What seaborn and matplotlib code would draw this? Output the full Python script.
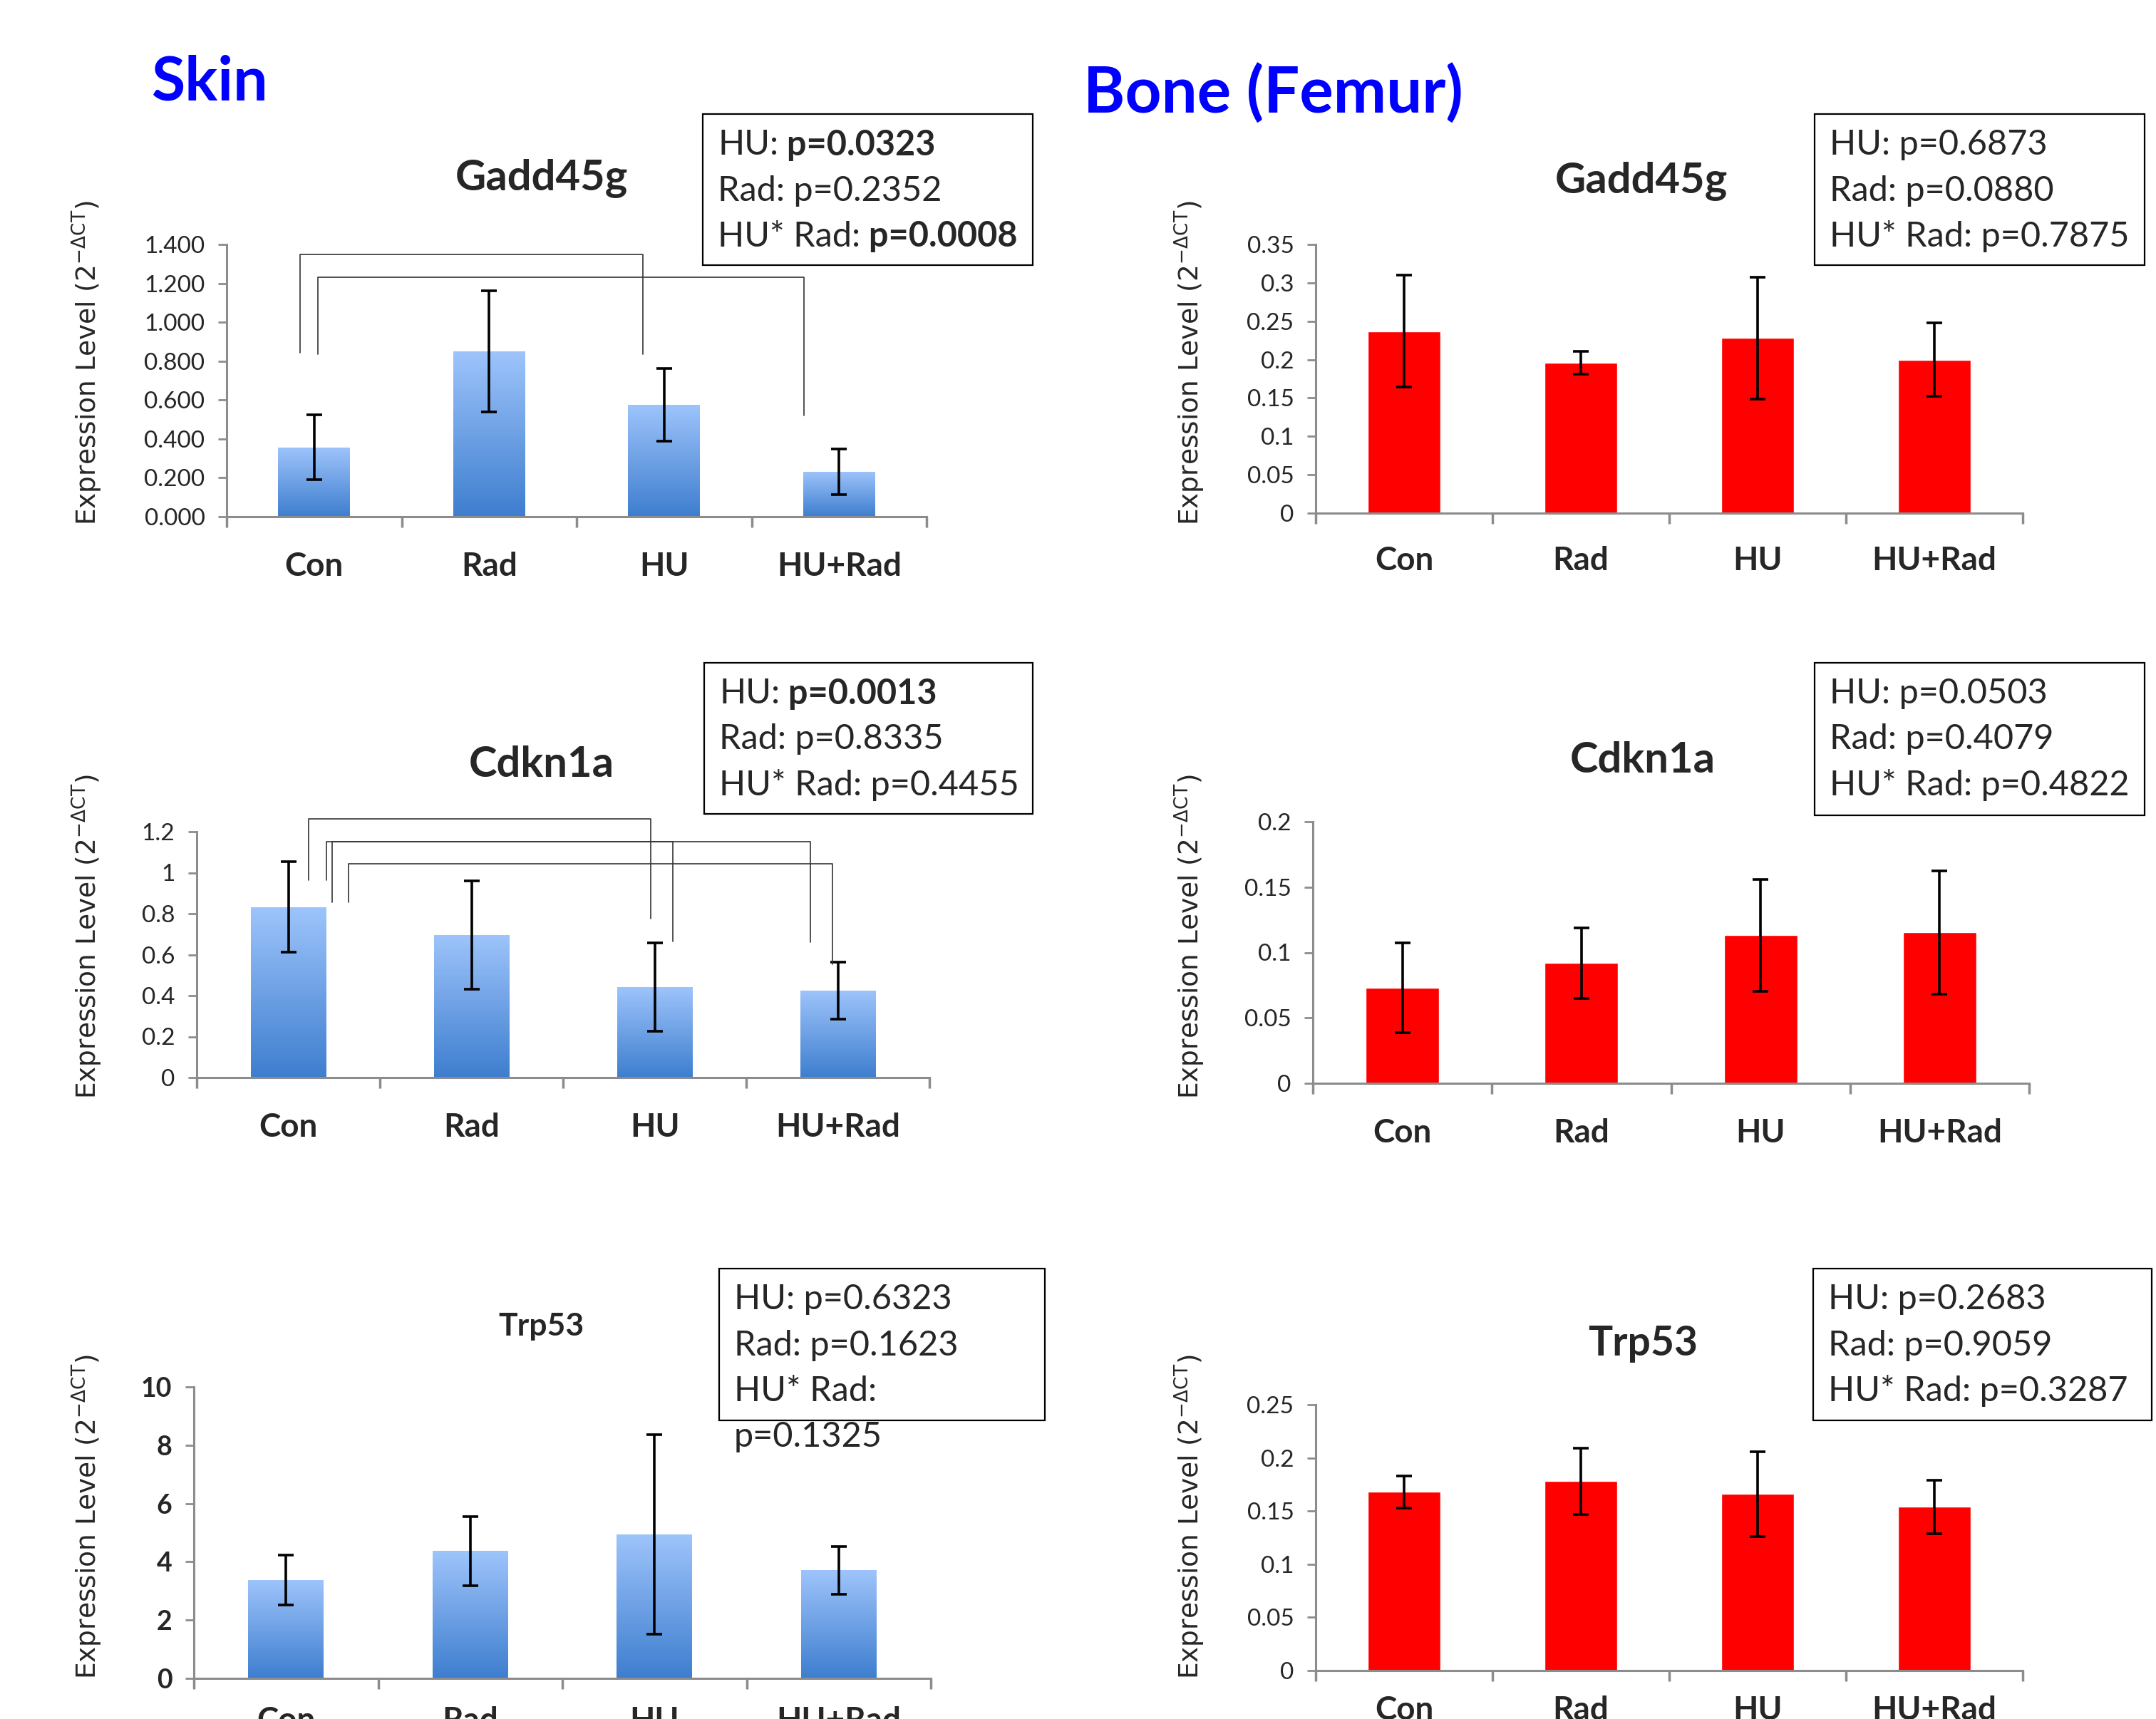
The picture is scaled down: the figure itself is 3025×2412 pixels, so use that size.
import numpy as np
import pandas as pd
import seaborn as sns
import matplotlib.pyplot as plt
from matplotlib.colors import LinearSegmentedColormap
from matplotlib.patches import Rectangle

W, H = 3025, 2412

groups = ["Con", "Rad", "HU", "HU+Rad"]

# Skin (blue bars): mean expression and error
skin_gadd45g = [0.356, 0.850, 0.576, 0.231]
skin_gadd45g_err = [0.167, 0.311, 0.188, 0.117]
skin_cdkn1a = [0.833, 0.696, 0.442, 0.425]
skin_cdkn1a_err = [0.221, 0.265, 0.216, 0.139]
skin_trp53 = [3.38, 4.37, 4.94, 3.71]
skin_trp53_err = [0.86, 1.18, 3.42, 0.82]

# Bone / femur (red bars)
bone_gadd45g = [0.237, 0.196, 0.228, 0.200]
bone_gadd45g_err = [0.073, 0.015, 0.079, 0.048]
bone_cdkn1a = [0.0731, 0.0919, 0.1131, 0.1154]
bone_cdkn1a_err = [0.0343, 0.0269, 0.0428, 0.0471]
bone_trp53 = [0.168, 0.178, 0.166, 0.154]
bone_trp53_err = [0.015, 0.031, 0.040, 0.025]

# y ticks and their labels
skin_gadd45g_ticks = [0, 0.2, 0.4, 0.6, 0.8, 1.0, 1.2, 1.4]
skin_gadd45g_labels = ["0.000", "0.200", "0.400", "0.600", "0.800", "1.000", "1.200", "1.400"]
skin_cdkn1a_ticks = [0, 0.2, 0.4, 0.6, 0.8, 1.0, 1.2]
skin_cdkn1a_labels = ["0", "0.2", "0.4", "0.6", "0.8", "1", "1.2"]
skin_trp53_ticks = [0, 2, 4, 6, 8, 10]
skin_trp53_labels = ["0", "2", "4", "6", "8", "10"]
bone_gadd45g_ticks = [0, 0.05, 0.1, 0.15, 0.2, 0.25, 0.3, 0.35]
bone_gadd45g_labels = ["0", "0.05", "0.1", "0.15", "0.2", "0.25", "0.3", "0.35"]
bone_cdkn1a_ticks = [0, 0.05, 0.1, 0.15, 0.2]
bone_cdkn1a_labels = ["0", "0.05", "0.1", "0.15", "0.2"]
bone_trp53_ticks = [0, 0.05, 0.1, 0.15, 0.2, 0.25]
bone_trp53_labels = ["0", "0.05", "0.1", "0.15", "0.2", "0.25"]

# p-value boxes: each line is a list of (text, bold)
skin_gadd45g_p = [[("HU:", 0), (" p=0.0323", 1)],
                  [("Rad: p=0.2352", 0)],
                  [("HU* Rad:", 0), (" p=0.0008", 1)]]
skin_cdkn1a_p = [[("HU:", 0), (" p=0.0013", 1)],
                 [("Rad: p=0.8335", 0)],
                 [("HU* Rad: p=0.4455", 0)]]
skin_trp53_p = [[("HU: p=0.6323", 0)],
                [("Rad: p=0.1623", 0)],
                [("HU* Rad:", 0)],
                [("p=0.1325", 0)]]
bone_gadd45g_p = [[("HU: p=0.6873", 0)], [("Rad: p=0.0880", 0)], [("HU* Rad: p=0.7875", 0)]]
bone_cdkn1a_p = [[("HU: p=0.0503", 0)], [("Rad: p=0.4079", 0)], [("HU* Rad: p=0.4822", 0)]]
bone_trp53_p = [[("HU: p=0.2683", 0)], [("Rad: p=0.9059", 0)], [("HU* Rad: p=0.3287", 0)]]

# comparison brackets: (left group, dx, right group, dx, top, left end, right end)
skin_gadd45g_brackets = [(0, -0.08, 2, -0.12, 1.347, 0.843, 0.835),
                         (0, 0.02, 3, -0.20, 1.231, 0.835, 0.522)]
skin_cdkn1a_brackets = [(0, 0.11, 2, -0.02, 1.264, 0.962, 0.777),
                        (0, 0.21, 3, -0.15, 1.152, 0.965, 0.661),
                        (0, 0.24, 2, 0.10, 1.152, 0.854, 0.664),
                        (0, 0.33, 3, -0.03, 1.042, 0.854, 0.552)]

sns.set_theme(style="white")
plt.rcParams["font.family"] = ["Lato", "DejaVu Sans"]
plt.rcParams["mathtext.default"] = "regular"

fig = plt.figure(figsize=(W / 100, H / 100), dpi=100)

AXIS = "#8c8c8c"
blue_cmap = LinearSegmentedColormap.from_list("skinblue", ["#3e7ecf", "#9ec4fb"])
grad = np.linspace(0, 1, 256).reshape(-1, 1)
ylabel = r"Expression Level (2$^{-\Delta \mathrm{CT}}$)"


def panel(rect, values, errs, ticks, ticklabels, gradient, title, title_xy, title_size,
          ylab_xy, box, plines, brackets=(), bold_ticks=False, xpad=35):
    x0, x1, ytop, ybot = rect
    ax = fig.add_axes([x0 / W, 1 - ybot / H, (x1 - x0) / W, (ybot - ytop) / H])
    df = pd.DataFrame({"group": groups, "value": values})
    sns.barplot(data=df, x="group", y="value", color="#ff0000", saturation=1,
                width=0.41, errorbar=None, ax=ax, zorder=2)
    if gradient:
        for p in list(ax.patches):
            bx, bw, bh = p.get_x(), p.get_width(), p.get_height()
            im = ax.imshow(grad, cmap=blue_cmap, extent=[bx, bx + bw, 0, bh],
                           origin="lower", aspect="auto", zorder=2.5)
            im.set_clip_path(p)
    ax.errorbar(range(len(groups)), values, yerr=errs, fmt="none", ecolor="black",
                elinewidth=2.6, capsize=8, capthick=2.6, zorder=4)
    for (i, dl, j, dr, top, lb, rb) in brackets:
        ax.plot([i + dl, i + dl, j + dr, j + dr], [lb, top, top, rb], color="#333333",
                lw=1.2, clip_on=False, zorder=5)

    ax.set_xlim(-0.5, 3.5)
    ax.set_ylim(ticks[0], ticks[-1])
    sns.despine(ax=ax)
    for s in ["left", "bottom"]:
        ax.spines[s].set_color(AXIS)
        ax.spines[s].set_linewidth(2.2)
    ax.set_yticks(ticks)
    ax.set_yticklabels(ticklabels, fontsize=27 if bold_ticks else 24,
                       fontweight="bold" if bold_ticks else "normal")
    ax.tick_params(axis="y", length=9, width=2, color=AXIS, pad=13, left=True)
    ax.set_xticks(range(len(groups)))
    ax.set_xticklabels(groups, fontsize=33, fontweight="bold")
    ax.set_xticks([-0.5, 0.5, 1.5, 2.5, 3.5], minor=True)
    ax.tick_params(axis="x", which="major", length=0, pad=xpad)
    ax.tick_params(axis="x", which="minor", length=11, width=2.5, color=AXIS, bottom=True)
    ax.set_xlabel("")
    ax.set_ylabel(ylabel, fontsize=27, family="DejaVu Sans")
    ax.yaxis.label.set_va("center")
    ax.yaxis.set_label_coords((ylab_xy[0] - x0) / (x1 - x0), (ybot - ylab_xy[1]) / (ybot - ytop))

    fig.text(title_xy[0] / W, 1 - title_xy[1] / H, title, ha="center", va="center",
             fontsize=title_size, fontweight="bold")

    bx0, by0, bx1, by1 = box
    fig.add_artist(Rectangle((bx0 / W, 1 - by1 / H), (bx1 - bx0) / W, (by1 - by0) / H,
                             transform=fig.transFigure, fill=False, lw=1.6, ec="black"))
    for k, line in enumerate(plines):
        ty = by0 + 43 + 64.5 * k
        prev = None
        for seg, bold in line:
            wt = "bold" if bold else "normal"
            if prev is None:
                prev = fig.text((bx0 + 21) / W, 1 - ty / H, seg, ha="left", va="center",
                                fontsize=35, fontweight=wt)
            else:
                prev = ax.annotate(seg, xy=(1, 0.5), xycoords=prev, ha="left", va="center",
                                   fontsize=35, fontweight=wt, annotation_clip=False)
    return ax


# skin column
panel((318, 1300, 343, 725), skin_gadd45g, skin_gadd45g_err, skin_gadd45g_ticks,
      skin_gadd45g_labels, True, "Gadd45g", (760, 251), 43, (122, 509),
      (986, 160, 1449, 372), skin_gadd45g_p, skin_gadd45g_brackets)
panel((276, 1304, 1167, 1512), skin_cdkn1a, skin_cdkn1a_err, skin_cdkn1a_ticks,
      skin_cdkn1a_labels, True, "Cdkn1a", (760, 1073), 43, (122, 1314),
      (988, 930, 1449, 1142), skin_cdkn1a_p, skin_cdkn1a_brackets)
panel((272, 1306, 1946, 2355), skin_trp53, skin_trp53_err, skin_trp53_ticks,
      skin_trp53_labels, True, "Trp53", (760, 1861), 32, (122, 2128),
      (1009, 1780, 1466, 1993), skin_trp53_p, bold_ticks=True, xpad=28)

# bone column
panel((1846, 2838, 343, 720), bone_gadd45g, bone_gadd45g_err, bone_gadd45g_ticks,
      bone_gadd45g_labels, False, "Gadd45g", (2303, 255), 43, (1669, 509),
      (2546, 160, 3009, 372), bone_gadd45g_p, xpad=33)
panel((1842, 2847, 1153, 1520), bone_cdkn1a, bone_cdkn1a_err, bone_cdkn1a_ticks,
      bone_cdkn1a_labels, False, "Cdkn1a", (2305, 1067), 43, (1669, 1314),
      (2546, 930, 3009, 1144), bone_cdkn1a_p)
panel((1846, 2838, 1971, 2344), bone_trp53, bone_trp53_err, bone_trp53_ticks,
      bone_trp53_labels, False, "Trp53", (2305, 1885), 41, (1669, 2128),
      (2544, 1780, 3019, 1993), bone_trp53_p, xpad=25)

fig.text(212 / W, 1 - 116 / H, "Skin", ha="left", va="center", fontsize=62,
         fontweight="bold", color="#0000ff")
fig.text(1520 / W, 1 - 131 / H, "Bone (Femur)", ha="left", va="center", fontsize=64,
         fontweight="bold", color="#0000ff")

fig.savefig("out.png", dpi=100, facecolor="white")
